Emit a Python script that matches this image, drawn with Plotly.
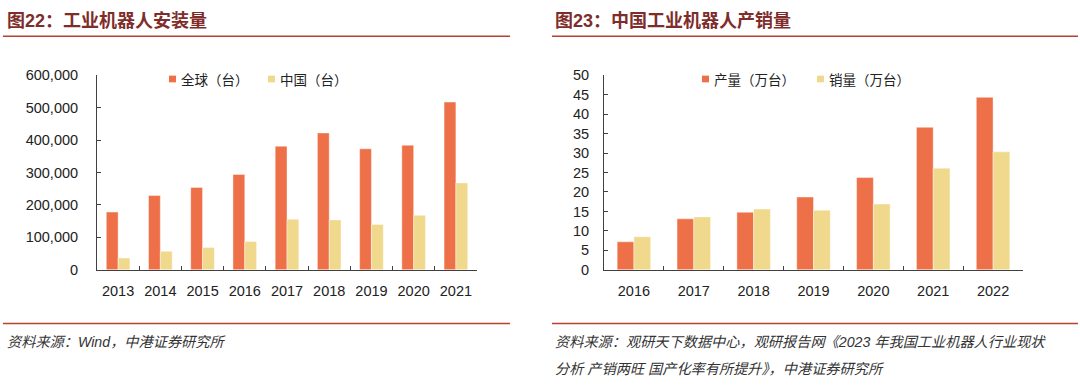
import plotly.graph_objects as go

# ---------------- data ----------------
years_install = ["2013", "2014", "2015", "2016", "2017", "2018", "2019", "2020", "2021"]
global_install = [178000, 229000, 254000, 294000, 381000, 422000, 373000, 384000, 517000]
china_install = [36600, 57000, 68600, 87000, 156000, 154000, 140000, 168000, 268000]

years_prod = ["2016", "2017", "2018", "2019", "2020", "2021", "2022"]
production = [7.2, 13.1, 14.8, 18.7, 23.7, 36.6, 44.3]
sales = [8.5, 13.6, 15.6, 15.3, 16.9, 26.1, 30.3]

left_names = ["全球（台）", "中国（台）"]
right_names = ["产量（万台）", "销量（万台）"]
title_left = "图22：工业机器人安装量"
title_right = "图23：中国工业机器人产销量"
source_left = "资料来源：Wind，中港证券研究所"
source_right_1 = "资料来源：观研天下数据中心，观研报告网《2023 年我国工业机器人行业现状"
source_right_2 = "分析 产销两旺 国产化率有所提升》，中港证券研究所"

# ---------------- style ----------------
W, H = 1080, 392
ORANGE = "#EE7049"
YELLOW = "#F0D98C"
AXIS = "#404040"
TITLE_C = "#7E2D2B"
RULE_C = "#B8402E"
FONT = "Liberation Sans, Noto Sans CJK SC, sans-serif"
CJK = "Noto Sans CJK SC, sans-serif"


def px(x):
    return x / W


def py(y):
    return 1 - y / H


fig = go.Figure()
fig.add_trace(go.Bar(x=years_install, y=global_install, name=left_names[0],
                     marker=dict(color=ORANGE, line=dict(color="rgba(255,255,255,0.7)", width=0.6)),
                     xaxis="x", yaxis="y", showlegend=False))
fig.add_trace(go.Bar(x=years_install, y=china_install, name=left_names[1],
                     marker=dict(color=YELLOW, line=dict(color="rgba(255,255,255,0.7)", width=0.6)),
                     xaxis="x", yaxis="y", showlegend=False))
fig.add_trace(go.Bar(x=years_prod, y=production, name=right_names[0],
                     marker=dict(color=ORANGE, line=dict(color="rgba(255,255,255,0.7)", width=0.6)),
                     xaxis="x2", yaxis="y2", showlegend=False))
fig.add_trace(go.Bar(x=years_prod, y=sales, name=right_names[1],
                     marker=dict(color=YELLOW, line=dict(color="rgba(255,255,255,0.7)", width=0.6)),
                     xaxis="x2", yaxis="y2", showlegend=False))

xcommon = dict(type="category", showline=True, linecolor=AXIS, linewidth=1,
               ticks="inside", ticklen=4, tickcolor=AXIS, tickson="boundaries",
               showgrid=False, zeroline=False,
               tickfont=dict(family=FONT, size=14.5, color="#222222"), ticklabelstandoff=8)
ycommon = dict(showline=True, linecolor=AXIS, linewidth=1, ticks="inside", ticklen=4,
               tickcolor=AXIS, showgrid=False, zeroline=False,
               tickfont=dict(family=FONT, size=14.5, color="#222222"))

fig.update_layout(
    width=W, height=H,
    margin=dict(l=0, r=0, t=0, b=0),
    paper_bgcolor="white", plot_bgcolor="white",
    barmode="group", bargap=0.44, bargroupgap=0,
    showlegend=False,
    xaxis=dict(domain=[px(97), px(477)], anchor="y", **xcommon),
    yaxis=dict(domain=[py(273), py(70)], anchor="x", range=[0, 600000], dtick=100000,
               tickformat=",d", ticklabelstandoff=15, **ycommon),
    xaxis2=dict(domain=[px(604), px(1023)], anchor="y2", **xcommon),
    yaxis2=dict(domain=[py(273), py(70)], anchor="x2", range=[0, 50], dtick=5,
                ticklabelstandoff=11, **ycommon),
)

shapes = []
annotations = []

# title rules and bottom rules
for x0, x1 in [(3, 510), (552, 1078)]:
    shapes.append(dict(type="line", xref="paper", yref="paper", x0=px(x0), x1=px(x1),
                       y0=py(29.5), y1=py(29.5), line=dict(color=RULE_C, width=1.6)))
    shapes.append(dict(type="line", xref="paper", yref="paper", x0=px(x0), x1=px(x1),
                       y0=py(329), y1=py(329), line=dict(color=RULE_C, width=1.6)))

# titles
for txt, x in [(title_left, 5), (title_right, 553)]:
    annotations.append(dict(text="<b>" + txt + "</b>", xref="paper", yref="paper",
                            x=px(x), y=py(14), xanchor="left", yanchor="middle",
                            showarrow=False, font=dict(family=FONT, size=18, color=TITLE_C)))

# legends (manual)
legend_items = [
    (169, left_names[0], ORANGE), (268, left_names[1], YELLOW),
    (702, right_names[0], ORANGE), (817, right_names[1], YELLOW),
]
for x, name, col in legend_items:
    shapes.append(dict(type="rect", xref="paper", yref="paper", x0=px(x), x1=px(x + 7),
                       y0=py(77.5), y1=py(70.5), fillcolor=col, line=dict(width=0)))
    annotations.append(dict(text=name, xref="paper", yref="paper", x=px(x + 10), y=py(74),
                            xanchor="left", yanchor="middle", showarrow=False,
                            font=dict(family=CJK, size=13.5, color="#222222")))

# sources
for txt, x, y in [(source_left, 5, 348), (source_right_1, 553, 348), (source_right_2, 553, 376)]:
    annotations.append(dict(text="<i>" + txt + "</i>", xref="paper", yref="paper",
                            x=px(x), y=py(y), xanchor="left", yanchor="middle", showarrow=False,
                            font=dict(family=FONT, size=14.2, color="#333333")))

fig.update_layout(shapes=shapes, annotations=annotations)
fig.write_html("out.html", config={"displayModeBar": False},
               post_script="document.body.style.margin='0';document.body.style.overflow='hidden';")
